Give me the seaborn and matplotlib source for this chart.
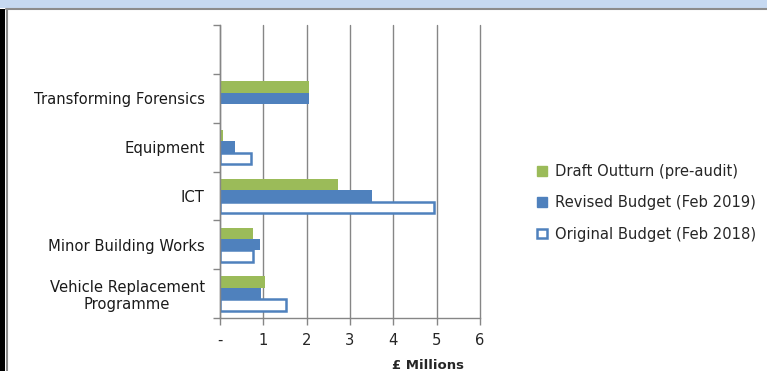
import numpy as np
import pandas as pd
import seaborn as sns
import matplotlib.pyplot as plt
from matplotlib.patches import Patch, Rectangle
from matplotlib.lines import Line2D

# data (GBP millions)
categories = ['', 'Transforming Forensics', 'Equipment', 'ICT',
              'Minor Building Works', 'Vehicle Replacement\nProgramme']
draft_outturn = [np.nan, 2.05, 0.08, 2.72, 0.75, 1.04]
revised_budget = [np.nan, 2.05, 0.35, 3.50, 0.92, 0.95]
original_budget = [np.nan, np.nan, 0.72, 4.94, 0.75, 1.53]
series_names = ['Draft Outturn (pre-audit)', 'Revised Budget (Feb 2019)', 'Original Budget (Feb 2018)']
x_ticks = [0, 1, 2, 3, 4, 5, 6]
x_tick_labels = ['-', '1', '2', '3', '4', '5', '6']

GREEN = '#9BBB59'
BLUE = '#4F81BD'
GRID = '#868686'
FS = 10.6

df = pd.DataFrame({
    'category': categories * 3,
    'series': sum([[s] * len(categories) for s in series_names], []),
    'value': draft_outturn + revised_budget + original_budget,
})

sns.set_style('white')
plt.rcParams['font.family'] = ['DejaVu Sans']

fig = plt.figure(figsize=(7.67, 3.71), dpi=100)
ax = fig.add_axes([220 / 767, 1 - 318 / 371, 260 / 767, 293 / 371])

sns.barplot(ax=ax, data=df, y='category', x='value', hue='series', orient='h',
            order=categories, hue_order=series_names,
            palette=[GREEN, BLUE, BLUE], width=0.7, legend=False, saturation=1)

# original budget drawn as outlined bars
for bar in ax.containers[2]:
    bar.set_facecolor('white')
    bar.set_edgecolor(BLUE)
    bar.set_linewidth(1.8)
for cont in ax.containers[:2]:
    for bar in cont:
        bar.set_linewidth(0)

ax.set_xlim(0, 6)
ax.set_ylim(len(categories) - 0.5, -0.5)
ax.set_xticks(x_ticks)
ax.set_xticklabels(x_tick_labels, fontsize=FS)
ax.set_yticks(range(len(categories)))
ax.set_yticklabels(categories, fontsize=FS, multialignment='center', color='#1A1A1A')
ax.set_yticks(np.arange(-0.5, len(categories), 1), minor=True)
ax.tick_params(axis='y', which='major', length=0, pad=11)
ax.tick_params(axis='y', which='minor', length=5, color=GRID, width=1, direction='out', left=True)
ax.tick_params(axis='x', length=5, color=GRID, width=1, direction='out', bottom=True, pad=6)
ax.set_xlabel('')
ax.set_ylabel('')

ax.grid(axis='x', color=GRID, linewidth=1)
for line in ax.get_xgridlines():
    line.set_clip_on(False)
ax.set_axisbelow(True)
for side in ['top', 'right']:
    ax.spines[side].set_visible(False)
for side in ['left', 'bottom']:
    ax.spines[side].set_color(GRID)
    ax.spines[side].set_linewidth(1)

fig.text(428 / 767, 1 - 359 / 371, '£ Millions', ha='center', va='top', fontsize=9.5, fontweight='bold')

handles = [Patch(facecolor=GREEN, edgecolor=GREEN),
           Patch(facecolor=BLUE, edgecolor=BLUE),
           Patch(facecolor='white', edgecolor=BLUE, linewidth=1.8)]
fig.legend(handles, series_names, loc='center left', bbox_to_anchor=(537 / 767, 1 - 203 / 371),
           frameon=False, fontsize=FS, handlelength=0.65, handleheight=0.65, handletextpad=0.55,
           labelspacing=1.1, borderaxespad=0, borderpad=0)

# window frame around the chart
fig.patches.append(Rectangle((0, 1 - 8 / 371), 1, 8 / 371, transform=fig.transFigure,
                             facecolor='#C6D9F1', edgecolor='none', zorder=0))
fig.lines.append(Line2D([6 / 767, 1], [1 - 9 / 371] * 2, transform=fig.transFigure, color='#8C8C8C', linewidth=1.5))
fig.patches.append(Rectangle((0, 0), 5 / 767, 1 - 9 / 371, transform=fig.transFigure,
                             facecolor='black', edgecolor='none'))
fig.lines.append(Line2D([6.5 / 767] * 2, [0, 1 - 9 / 371], transform=fig.transFigure, color='#8C8C8C', linewidth=1.5))

fig.savefig('out.png', dpi=100)
